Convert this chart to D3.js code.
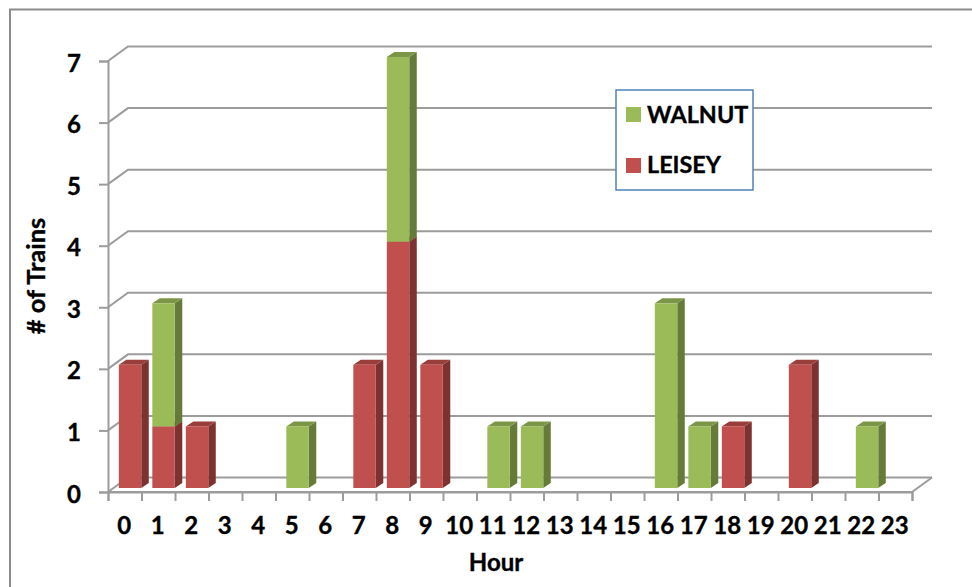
<!DOCTYPE html>
<html><head><meta charset="utf-8">
<script src="https://cdnjs.cloudflare.com/ajax/libs/d3/7.8.5/d3.min.js"></script>
<style>html,body{margin:0;padding:0;background:#fff}svg{display:block}text{font-family:Lato,"Open Sans",sans-serif;font-weight:700;fill:#000;stroke:#000;stroke-width:.35px}</style>
</head><body><svg id="c" width="972" height="587"></svg>
<script>
const hours = d3.range(24).map(String);
const yTicks = [0,1,2,3,4,5,6,7];
const leisey = [2,1,1,0,0,0,0,2,4,2,0,0,0,0,0,0,0,0,1,0,2,0,0,0];
const walnut = [0,2,0,0,0,1,0,0,3,0,0,1,1,0,0,0,3,1,0,0,0,0,1,0];
const seriesNames = ["LEISEY","WALNUT"];
const faceColors = ["#c0504d","#9bbb59"];
const sideColors = ["#7d3230","#667b3a"];
const topColors = ["#993e3b","#7c9647"];

const svg = d3.select("#c");
const gridC = "#9c9c9c", frameC = "#8c8c8c";
const plotL=108,plotR=912,plotB=492,plotT=61;
const depth={x:20,y:-14.5};        // chart floor depth
const barDepth={x:7.5,y:-5};       // bar depth
const barShift={x:5.3,y:-4};       // bars sit inside the floor
const x = d3.scaleBand().domain(hours).range([plotL,plotR]);
const xEdge = d3.scaleLinear().domain([0,24]).range([plotL,plotR]);
const y = d3.scaleLinear().domain([0,7]).range([plotB,plotT]);
const barW = x.bandwidth()*0.67;

// outer frame
svg.append("path").attr("d","M10,587V9.5H972").attr("fill","none").attr("stroke",frameC).attr("stroke-width",2);

// back gridlines and side wall links
const lineW=2;
svg.append("g").selectAll("path").data(yTicks).join("path")
  .attr("d",d=>`M${plotL},${y(d)}L${plotL+depth.x},${y(d)+depth.y}H${plotR+depth.x}`)
  .attr("fill","none").attr("stroke",gridC).attr("stroke-width",lineW);
// floor front and right edges
svg.append("path").attr("d",`M${plotL},${y(0)}H${plotR}L${plotR+depth.x},${y(0)+depth.y}`)
  .attr("fill","none").attr("stroke",gridC).attr("stroke-width",lineW);

// axes
const yAxis = svg.append("g").attr("transform",`translate(${plotL},0)`)
  .call(d3.axisLeft(y).tickValues(yTicks).tickFormat(d3.format("d")).tickSize(9).tickPadding(18));
const xTicks = svg.append("g").attr("transform",`translate(0,${plotB})`)
  .call(d3.axisBottom(xEdge).tickValues(d3.range(25)).tickFormat("").tickSize(9));
const xAxis = svg.append("g").attr("transform",`translate(-0.5,${plotB})`)
  .call(d3.axisBottom(x).tickSize(0).tickPadding(25));
[yAxis,xTicks].forEach(g=>g.selectAll("path,line").attr("stroke",gridC).attr("stroke-width",lineW));
xAxis.select("path").remove();
[yAxis,xAxis].forEach(g=>g.selectAll("text").attr("font-size",24).attr("font-family",'Lato,"Open Sans",sans-serif'));
yAxis.selectAll("text").attr("dy","0.42em");

// bars
const stack = d3.stack().keys([0,1]).value((d,k)=>d[k]);
const rows = hours.map((h,i)=>[leisey[i],walnut[i]]);
const layers = stack(rows);
const gBars = svg.append("g");
layers.forEach((layer,s)=>{
  layer.forEach((seg,i)=>{
    if(seg[1]<=seg[0]) return;
    const x0 = x(hours[i])+barShift.x+(x.bandwidth()-barW)/2, x1=x0+barW;
    const y0 = y(seg[0])+barShift.y, y1=y(seg[1])+barShift.y;
    const g = gBars.append("g");
    g.append("path").attr("d",`M${x1},${y0}L${x1+barDepth.x},${y0+barDepth.y}V${y1+barDepth.y}L${x1},${y1}Z`).attr("fill",sideColors[s]);
    g.append("path").attr("d",`M${x0},${y1}L${x0+barDepth.x},${y1+barDepth.y}H${x1+barDepth.x}L${x1},${y1}Z`).attr("fill",topColors[s]);
    g.append("rect").attr("x",x0).attr("y",y1).attr("width",barW).attr("height",y0-y1).attr("fill",faceColors[s]);
  });
});

// axis titles
svg.append("text").attr("x",496).attr("y",571).attr("text-anchor","middle").attr("font-size",24).text("Hour");
svg.append("text").attr("transform","translate(45,276) rotate(-90)").attr("text-anchor","middle").attr("font-size",25.5).text("# of Trains");

// legend
const leg = svg.append("g");
leg.append("rect").attr("x",616).attr("y",90).attr("width",137).attr("height",100).attr("fill","#fff").attr("stroke","#4f81bd").attr("stroke-width",1.5);
[[1,107,123],[0,158,173]].forEach(([s,yy,base])=>{
  leg.append("rect").attr("x",626).attr("y",yy).attr("width",15).attr("height",15).attr("fill",faceColors[s]);
  leg.append("text").attr("x",647).attr("y",base).attr("font-size",23.4).text(seriesNames[s]);
});
</script></body></html>
